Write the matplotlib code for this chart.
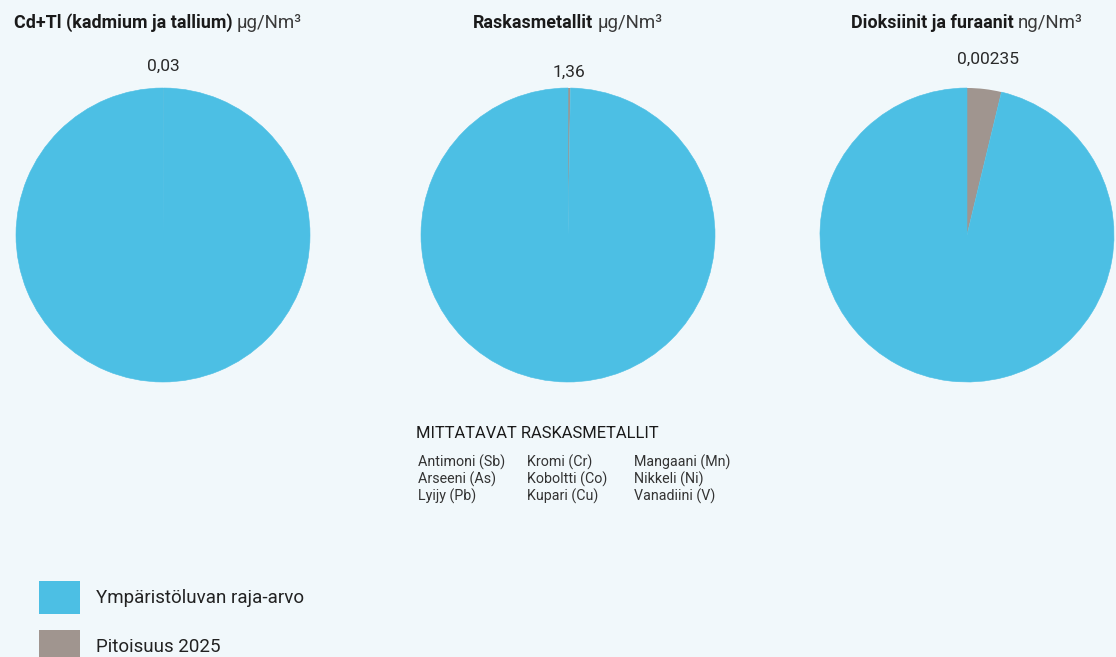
import matplotlib
matplotlib.use("Agg")
import matplotlib.pyplot as plt
from matplotlib.patches import Patch
import numpy as np

plt.rcParams['font.family'] = ['Roboto', 'DejaVu Sans']

# data
titles_bold = ["Cd+Tl (kadmium ja tallium)", "Raskasmetallit", "Dioksiinit ja furaanit"]
titles_unit = ["µg/Nm³", "µg/Nm³", "ng/Nm³"]
measured = [0.03, 1.36, 0.00235]
measured_labels = ["0,03", "1,36", "0,00235"]
limits = [50, 500, 0.06]
series_names = ["Ympäristöluvan raja-arvo", "Pitoisuus 2025"]

metals_header = "MITTATAVAT RASKASMETALLIT"
metals = [
    ["Antimoni (Sb)", "Arseeni (As)", "Lyijy (Pb)"],
    ["Kromi (Cr)", "Koboltti (Co)", "Kupari (Cu)"],
    ["Mangaani (Mn)", "Nikkeli (Ni)", "Vanadiini (V)"],
]

BG = "#f1f8fb"
BLUE = "#4cbfe4"
GREY = "#a0958f"
TXT = "#1a1a1a"

W, H = 1116, 657
fig = plt.figure(figsize=(W / 100, H / 100), dpi=100)
fig.patch.set_facecolor(BG)


def fx(px):
    return px / W


def fy(py):
    return 1 - py / H


centers = [163, 568, 967]
title_centers = [158, 568, 967]
cy = 235
r = 147
label_dist = [1.145, 1.105, 1.205]

for i in range(3):
    ax = fig.add_axes([fx(centers[i] - r), fy(cy + r), 2 * r / W, 2 * r / H])
    wedges, _ = ax.pie([measured[i], limits[i]], colors=[GREY, BLUE], startangle=90,
                       counterclock=False, radius=1,
                       wedgeprops=dict(linewidth=0, antialiased=True))
    # hide the seam of the very thin slices
    wedges[1].set_edgecolor(BLUE)
    wedges[1].set_linewidth(0.4)
    ax.set_xlim(-1, 1)
    ax.set_ylim(-1, 1)
    ax.set_aspect("auto")
    ax.axis("off")
    w = wedges[0]
    mid = np.deg2rad((w.theta1 + w.theta2) / 2)
    d = label_dist[i]
    ax.text(d * np.cos(mid), d * np.sin(mid), measured_labels[i], ha="center", va="center",
            fontsize=12.5, color="#2a2a2a", clip_on=False)

# titles: bold part + unit, centred over each pie
fig.canvas.draw()
renderer = fig.canvas.get_renderer()
title_y = 23
for i in range(3):
    t1 = fig.text(0, fy(title_y), titles_bold[i], fontsize=12.9, fontweight="bold",
                  color=TXT, ha="left", va="center")
    t2 = fig.text(0, fy(title_y), titles_unit[i], fontsize=13.4, color="#3a3a3a",
                  ha="left", va="center")
    w1 = t1.get_window_extent(renderer).width
    w2 = t2.get_window_extent(renderer).width
    gap = 4
    x0 = title_centers[i] - (w1 + gap + w2) / 2
    t1.set_x(fx(x0))
    t2.set_x(fx(x0 + w1 + gap))

# measured heavy metals list
fig.text(fx(416), fy(433), metals_header, fontsize=11.9, color=TXT, ha="left", va="center")
col_x = [418, 527, 634]
row_y = [462, 479, 496]
for c, col in enumerate(metals):
    for rr, name in enumerate(col):
        fig.text(fx(col_x[c]), fy(row_y[rr]), name, fontsize=10.3, color="#333333",
                 ha="left", va="center")

# legend
handles = [Patch(facecolor=BLUE, edgecolor="none"), Patch(facecolor=GREY, edgecolor="none")]
fig.legend(handles, series_names, loc="upper left", bbox_to_anchor=(fx(39), fy(581)),
           frameon=False, fontsize=13.5, handlelength=2.19, handleheight=2.33,
           handletextpad=0.85, labelspacing=0.85, borderpad=0, borderaxespad=0,
           labelcolor="#222222")

fig.savefig("out.png", dpi=100, facecolor=BG)
